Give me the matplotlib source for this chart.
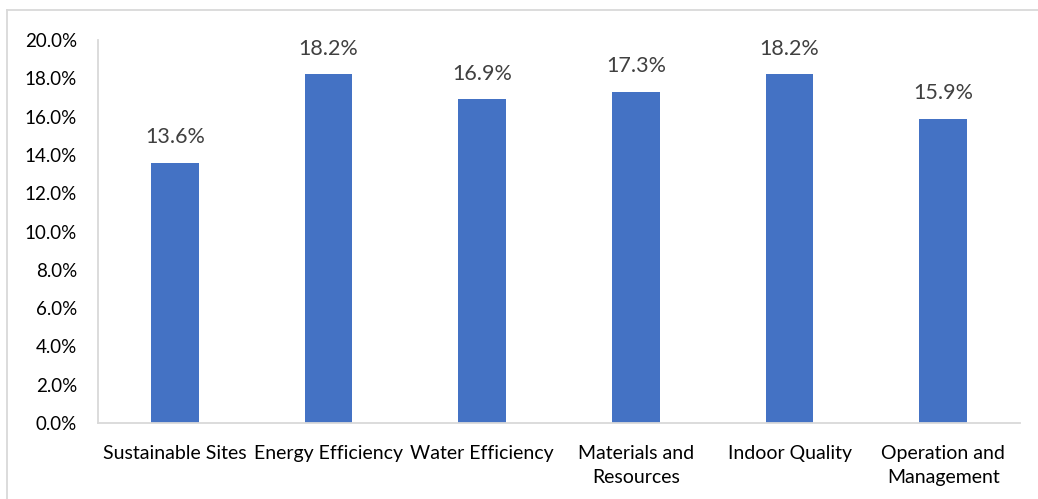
import matplotlib.pyplot as plt
from matplotlib.lines import Line2D
from matplotlib.ticker import PercentFormatter
import numpy as np

plt.rcParams['font.family'] = ['Lato', 'DejaVu Sans']

categories = ['Sustainable Sites', 'Energy Efficiency', 'Water Efficiency',
              'Materials and\nResources', 'Indoor Quality', 'Operation and\nManagement']
values = [13.6, 18.2, 16.9, 17.3, 18.2, 15.9]  # percent

bar_color = '#4472C4'
grid_gray = '#D9D9D9'

fig = plt.figure(figsize=(10.38, 4.99), dpi=100)
ax = fig.add_axes([0.0944, 0.1523, 0.8883, 0.7675])

x = np.arange(len(categories))
bars = ax.bar(x, values, width=0.31, color=bar_color)

# data labels above bars
for b, v in zip(bars, values):
    ax.annotate(f'{v:.1f}%', (b.get_x() + b.get_width() / 2, v),
                xytext=(0, 11), textcoords='offset points',
                ha='center', va='bottom', fontsize=15.5, color='#404040')

ax.set_ylim(0, 20)
ax.set_yticks(np.arange(0, 20.1, 2))
ax.yaxis.set_major_formatter(PercentFormatter(decimals=1))
ax.set_xlim(-0.5, len(categories) - 0.5)
ax.set_xticks(x)
ax.set_xticklabels(categories, fontsize=14, color='#000000', linespacing=1.55)
ax.tick_params(axis='y', labelsize=13.5, length=0, pad=15)
ax.tick_params(axis='x', length=0, pad=15.5)

for s in ['top', 'right']:
    ax.spines[s].set_visible(False)
ax.spines['left'].set_color(grid_gray)
ax.spines['bottom'].set_color(grid_gray)
ax.spines['left'].set_linewidth(1.3)
ax.spines['bottom'].set_linewidth(1.3)

# chart-area border (only top and left edges visible in the crop)
fig.add_artist(Line2D([7 / 1038, 1], [1 - 10 / 499, 1 - 10 / 499],
                      transform=fig.transFigure, color=grid_gray, lw=1.3))
fig.add_artist(Line2D([7 / 1038, 7 / 1038], [0, 1 - 10 / 499],
                      transform=fig.transFigure, color=grid_gray, lw=1.3))

fig.savefig('out.png', dpi=100)
